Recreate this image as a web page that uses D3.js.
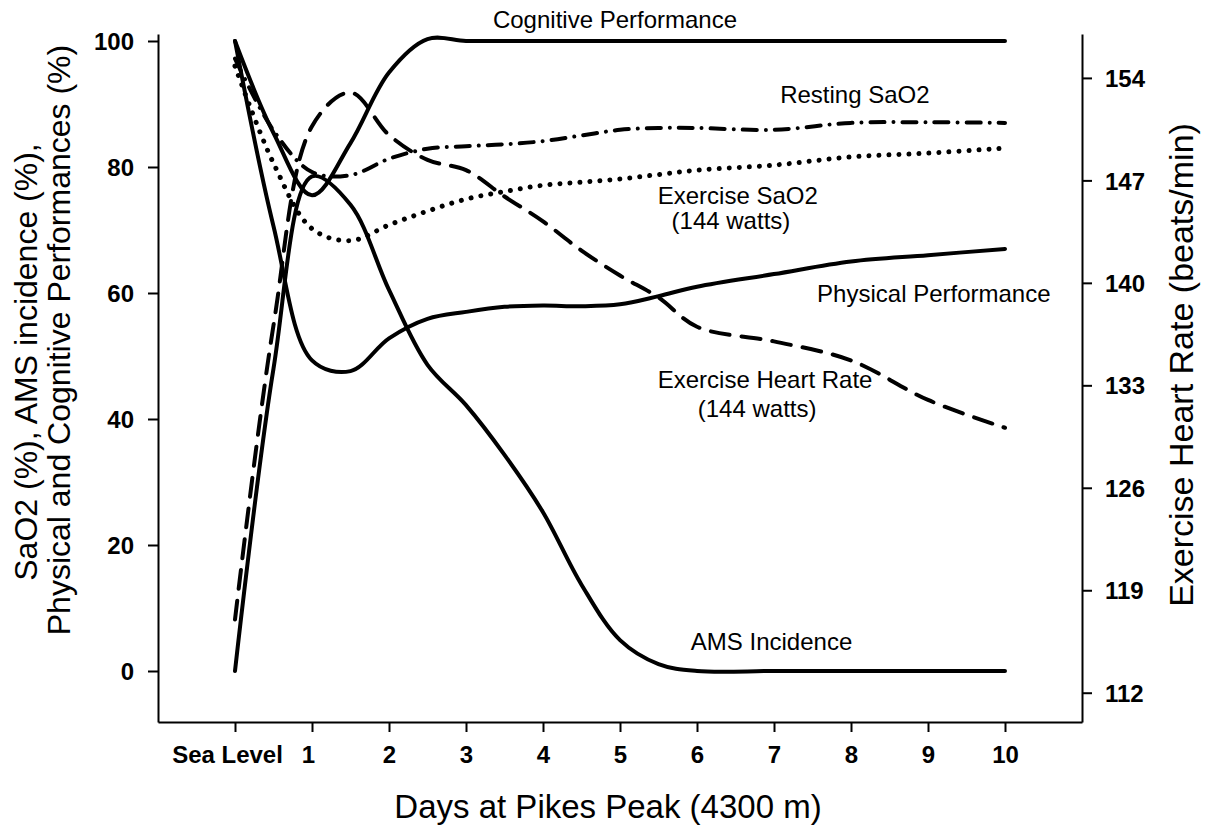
<!DOCTYPE html>
<html>
<head>
<meta charset="utf-8">
<script src="https://cdn.jsdelivr.net/npm/d3@7"></script>
<style>
  html, body { margin: 0; padding: 0; background: #fff; }
  svg { display: block; font-family: "Liberation Sans", Arial, Helvetica, sans-serif; }
</style>
</head>
<body>
<svg id="chart" width="1206" height="832"></svg>
<script>
// ---------- data ----------
const days = [0, 0.5, 1, 1.5, 2, 2.5, 3, 3.5, 4, 4.5, 5, 5.5, 6, 7, 8, 9, 10];
const xTickValues = [0, 1, 2, 3, 4, 5, 6, 7, 8, 9, 10];
const xTickLabels = ["Sea Level", "1", "2", "3", "4", "5", "6", "7", "8", "9", "10"];
const leftTicks = [0, 20, 40, 60, 80, 100];
const rightTicks = [112, 119, 126, 133, 140, 147, 154];

const cognitive   = [100, 85.4, 75.5, 83.8, 95, 100.3, 100, 100, 100, 100, 100, 100, 100, 100, 100, 100, 100];
const physical    = [100, 70.6, 49.3, 47.6, 52.8, 55.9, 57, 57.8, 58, 57.9, 58.2, 59.5, 61, 63, 65, 66, 67];
const ams         = [0, 48, 78.5, 74, 60.5, 48.6, 42.2, 34.3, 25.2, 13.7, 4.9, 1.1, 0, 0, 0, 0, 0];
const restingSaO2 = [97.2, 85.8, 79.2, 78.7, 81.3, 82.9, 83.3, 83.6, 84.1, 85, 85.9, 86.2, 86.2, 85.9, 87, 87.1, 87];
const exerciseSaO2= [96, 80.6, 70.2, 68.3, 70.8, 73, 74.9, 76.1, 77.1, 77.6, 78.1, 78.8, 79.5, 80.3, 81.6, 82.2, 83];
const exerciseHR  = [117, 137.1, 150.7, 153, 150.1, 148.4, 147.7, 145.9, 144.2, 142.2, 140.5, 139, 137, 136, 134.7, 132, 130.1];

// label anchors in data units: [day, left-axis value]
const labelTexts  = ["Cognitive Performance", "Resting SaO2", "Exercise SaO2", "(144 watts)", "Physical Performance", "Exercise Heart Rate", "(144 watts)", "AMS Incidence"];
const labelDays   = [3.35, 7.08, 5.49, 5.67, 7.56, 5.49, 6.01, 5.92];
const labelValues = [102.06, 90.16, 74.1, 70.2, 58.57, 44.92, 40.32, 3.33];

// ---------- layout ----------
const svg = d3.select("#chart");
const plot = { left: 158, right: 1082, top: 34, bottom: 722 };

const x  = d3.scaleLinear().domain([-1, 11]).range([plot.left, plot.right]);
const yL = d3.scaleLinear().domain([-8.095, 101.11]).range([plot.bottom, plot.top]);
const yR = d3.scaleLinear().domain([110, 157]).range([plot.bottom, plot.top]);

// ---------- axes ----------
const tickFont = 24;
const gLeft = svg.append("g").attr("transform", `translate(${plot.left},0)`)
  .call(d3.axisLeft(yL).tickValues(leftTicks).tickSize(10).tickPadding(14).tickSizeOuter(0));
const gRight = svg.append("g").attr("transform", `translate(${plot.right},0)`)
  .call(d3.axisRight(yR).tickValues(rightTicks).tickSize(10).tickPadding(13).tickSizeOuter(0));
const gBottom = svg.append("g").attr("transform", `translate(0,${plot.bottom})`)
  .call(d3.axisBottom(x).tickValues(xTickValues).tickSize(10).tickPadding(14).tickSizeOuter(0)
        .tickFormat((d, i) => xTickLabels[i]));

[gLeft, gRight, gBottom].forEach(g => {
  g.select(".domain").attr("stroke", "#000").attr("stroke-width", 2);
  g.selectAll(".tick line").attr("stroke", "#000").attr("stroke-width", 2);
  g.selectAll(".tick text").attr("fill", "#000").attr("font-size", tickFont).attr("font-weight", "bold")
    .attr("font-family", '"Liberation Sans", Arial, sans-serif');
});
gLeft.selectAll(".tick text").attr("dy", "0.36em");
gRight.selectAll(".tick text").attr("dy", "0.36em");
gBottom.selectAll(".tick text").attr("dy", "0.71em")
  .attr("dx", (d) => d === 0 ? -8 : (d === 1 ? -4 : 0));

// ---------- axis titles ----------
const titleFont = 33;
svg.append("text").attr("x", (plot.left + plot.right) / 2 - 12).attr("y", 818)
  .attr("text-anchor", "middle").attr("font-size", titleFont).text("Days at Pikes Peak (4300 m)");

svg.append("text").attr("transform", `translate(37,362) rotate(-90)`)
  .attr("text-anchor", "middle").attr("font-size", 32).text("SaO2 (%), AMS incidence (%),");
svg.append("text").attr("transform", `translate(70,340) rotate(-90)`)
  .attr("text-anchor", "middle").attr("font-size", 32).text("Physical and Cognitive Performances (%)");

svg.append("text").attr("transform", `translate(1193,365) rotate(-90)`)
  .attr("text-anchor", "middle").attr("font-size", 34).text("Exercise Heart Rate (beats/min)");

// ---------- series ----------
const curve = d3.curveCatmullRom.alpha(0.5);
const lineL = d3.line().x((d, i) => x(days[i])).y(d => yL(d)).curve(curve);
const lineR = d3.line().x((d, i) => x(days[i])).y(d => yR(d)).curve(curve);

const series = [
  { values: cognitive,    gen: lineL, dash: null,           width: 4 },
  { values: physical,     gen: lineL, dash: null,           width: 4 },
  { values: ams,          gen: lineL, dash: null,           width: 4 },
  { values: restingSaO2,  gen: lineL, dash: "14 9 0.01 9",  width: 4 },
  { values: exerciseSaO2, gen: lineL, dash: "0.01 10",      width: 5 },
  { values: exerciseHR,   gen: lineR, dash: "19 12",        width: 4 }
];

svg.append("g").selectAll("path").data(series).join("path")
  .attr("d", s => s.gen(s.values))
  .attr("fill", "none")
  .attr("stroke", "#000")
  .attr("stroke-width", s => s.width)
  .attr("stroke-linecap", "round")
  .attr("stroke-linejoin", "round")
  .attr("stroke-dasharray", s => s.dash);

// ---------- curve labels ----------
svg.append("g").selectAll("text").data(labelTexts).join("text")
  .attr("x", (d, i) => x(labelDays[i]))
  .attr("y", (d, i) => yL(labelValues[i]))
  .attr("font-size", 24)
  .attr("fill", "#000")
  .text(d => d);
</script>
</body>
</html>
